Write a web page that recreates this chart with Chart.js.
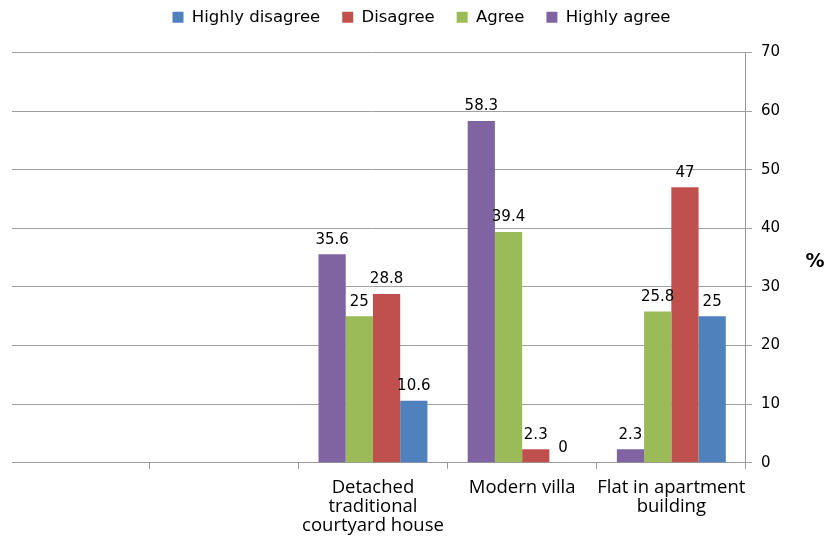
<!DOCTYPE html>
<html>
<head>
<meta charset="utf-8">
<script src="https://cdn.jsdelivr.net/npm/chart.js@4.4.1/dist/chart.umd.min.js"></script>
<style>
  html, body { margin: 0; padding: 0; background: #fff; }
  #wrap { width: 827px; height: 538px; }
</style>
</head>
<body>
<div id="wrap"><canvas id="survey"></canvas></div>
<script>
const categories = ["", "", ["Detached", "traditional", "courtyard house"], "Modern villa", ["Flat in apartment", "building"]];
const highlyAgree = [null, null, 35.6, 58.3, 2.3];
const agree = [null, null, 25, 39.4, 25.8];
const disagree = [null, null, 28.8, 2.3, 47];
const highlyDisagree = [null, null, 10.6, 0, 25];
const yTicks = [0, 10, 20, 30, 40, 50, 60, 70];

// value labels above each bar
const barLabels = {
  id: "barLabels",
  afterDatasetsDraw(chart) {
    const ctx = chart.ctx;
    ctx.save();
    ctx.font = "15px 'DejaVu Sans'";
    ctx.fillStyle = "#000";
    ctx.textAlign = "center";
    ctx.textBaseline = "bottom";
    chart.data.datasets.forEach((ds, i) => {
      chart.getDatasetMeta(i).data.forEach((bar, j) => {
        const v = ds.data[j];
        if (v === null) return;
        ctx.fillText(String(v), bar.x, bar.y - 7);
      });
    });
    ctx.restore();
  }
};

// horizontal "%" axis title, and the lines start a little in from the left edge
const percentTitle = {
  id: "percentTitle",
  afterDraw(chart) {
    const ctx = chart.ctx;
    const a = chart.chartArea;
    ctx.save();
    ctx.fillStyle = "#fff";
    ctx.fillRect(0, a.top - 2, 12, a.bottom - a.top + 10);
    ctx.font = "bold 19px 'DejaVu Sans'";
    ctx.fillStyle = "#000";
    ctx.textAlign = "center";
    ctx.textBaseline = "middle";
    ctx.fillText("%", 815, (a.top + a.bottom) / 2 + 4);
    ctx.restore();
  }
};

// extra gap under the legend, legend moved a bit right
const legendGap = {
  id: "legendGap",
  beforeInit(chart) {
    const fit = chart.legend.fit;
    chart.legend.fit = function () {
      fit.bind(chart.legend)();
      this.height += 17;
    };
  },
  afterLayout(chart) {
    chart.legend.left += 27;
    chart.legend.right += 27;
  }
};

new Chart(document.getElementById("survey"), {
  type: "bar",
  data: {
    labels: categories,
    datasets: [
      { label: "Highly agree", data: highlyAgree, backgroundColor: "#8064A2" },
      { label: "Agree", data: agree, backgroundColor: "#9BBB59" },
      { label: "Disagree", data: disagree, backgroundColor: "#C0504D" },
      { label: "Highly disagree", data: highlyDisagree, backgroundColor: "#4F81BD" },
    ],
  },
  options: {
    responsive: true,
    maintainAspectRatio: false,
    animation: false,
    categoryPercentage: 0.73,
    barPercentage: 1.0,
    layout: { padding: { left: 0, right: 38, top: -13, bottom: -6 } },
    plugins: {
      legend: {
        position: "top",
        reverse: true,
        labels: {
          boxWidth: 11,
          boxHeight: 11,
          padding: 22,
          color: "#000",
          font: { family: "'DejaVu Sans'", size: 16.5 },
        },
      },
      tooltip: { enabled: false },
    },
    scales: {
      x: {
        grid: {
          drawOnChartArea: false,
          color: "#999",
          tickLength: 6,
          offset: true,
        },
        border: { color: "#999" },
        ticks: {
          color: "#000",
          font: { family: "'Open Sans'", size: 18.5, lineHeight: 1.03 },
          maxRotation: 0,
          autoSkip: false,
          padding: 9,
        },
      },
      y: {
        position: "right",
        min: 0,
        max: 70,
        afterBuildTicks(scale) {
          scale.ticks = yTicks.map((v) => ({ value: v }));
        },
        grid: { color: "#a0a0a0", tickLength: 6 },
        border: { color: "#999" },
        ticks: {
          color: "#000",
          font: { family: "'DejaVu Sans'", size: 15 },
          padding: 9,
        },
      },
    },
  },
  plugins: [barLabels, percentTitle, legendGap],
});
</script>
</body>
</html>
